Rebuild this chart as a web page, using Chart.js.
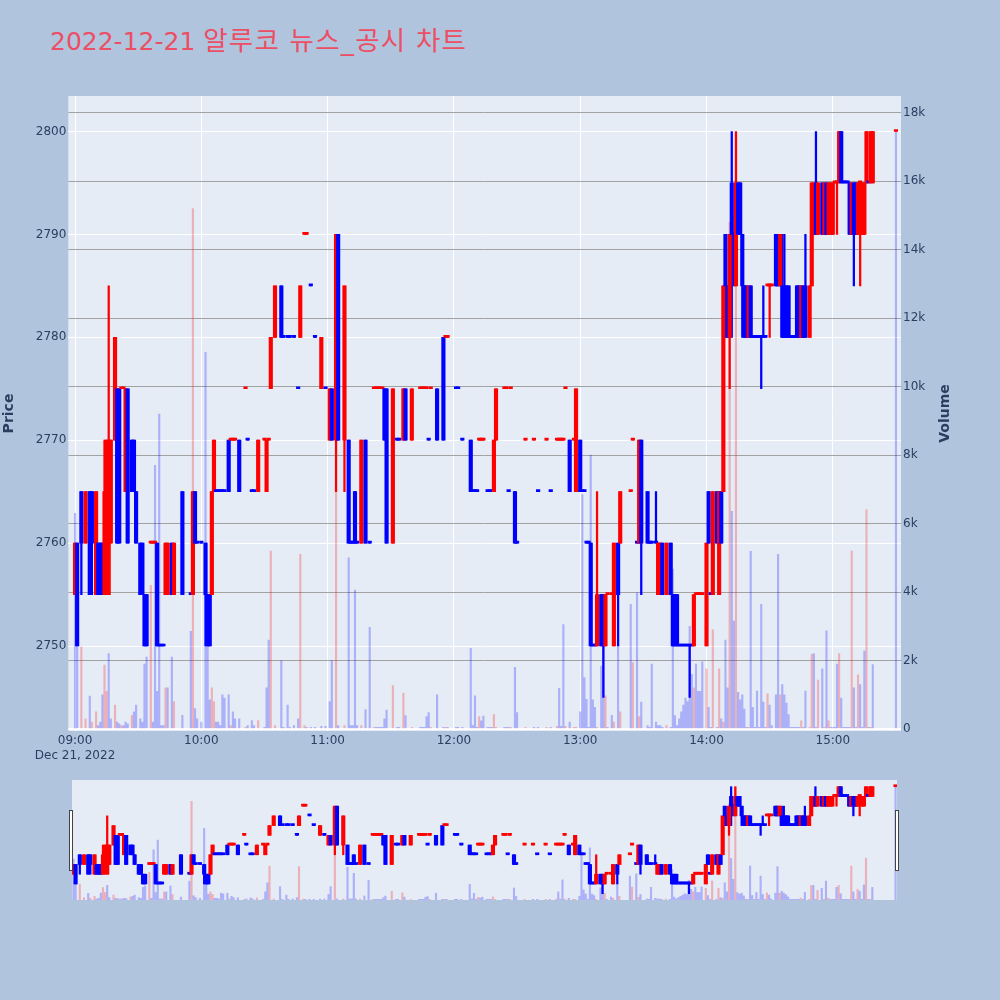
<!DOCTYPE html>
<html>
<head>
<meta charset="utf-8">
<script src="https://cdn.jsdelivr.net/npm/chart.js@4.4.0/dist/chart.umd.min.js"></script>
<style>
  html, body { margin: 0; padding: 0; background: #b0c4de; }
  #wrap { position: relative; width: 1000px; height: 1000px; overflow: hidden; }
  #title { position: absolute; left: 50px; top: 21px; line-height: 40px; white-space: nowrap;
           font-family: "DejaVu Sans", "Noto Sans CJK KR", sans-serif; font-size: 25px; color: #ec4e64; }
  #title .ko { font-size: 26.5px; letter-spacing: 1.2px; }
  #main { position: absolute; left: 0; top: 0; }
  #slider { position: absolute; left: 72px; top: 780px; background: #e5ecf6; }
  .handle { position: absolute; top: 810px; width: 2px; height: 59px; background: #fff; border: 1px solid #444; }
</style>
</head>
<body>
<div id="wrap">
  <div id="title">2022-12-21 <span class="ko">알루코 뉴스_공시 차트</span></div>
  <canvas id="main" width="1000" height="1000"></canvas>
  <canvas id="slider" width="825" height="120"></canvas>
  <div class="handle" style="left:69px"></div>
  <div class="handle" style="left:895px"></div>
</div>
<script>
// one row per traded minute (one line per hour)
var times = [
  '09:00','09:01','09:03','09:05','09:07','09:08','09:10','09:11','09:12','09:13','09:14','09:15','09:16','09:17','09:19','09:20','09:21','09:22','09:23','09:24','09:25','09:27','09:28','09:29','09:31','09:32','09:33','09:34','09:36','09:37','09:38','09:39','09:40','09:41','09:42','09:43','09:44','09:46','09:47','09:51','09:55','09:56','09:57','09:58',
  '10:00','10:02','10:03','10:04','10:05','10:06','10:07','10:08','10:09','10:10','10:11','10:13','10:14','10:15','10:16','10:18','10:21','10:22','10:24','10:25','10:27','10:30','10:31','10:32','10:33','10:35','10:38','10:39','10:41','10:42','10:44','10:46','10:47','10:49','10:50','10:52','10:54','10:57','10:59',
  '11:01','11:02','11:04','11:05','11:08','11:10','11:11','11:12','11:13','11:14','11:16','11:18','11:20','11:22','11:23','11:24','11:25','11:26','11:27','11:28','11:31','11:33','11:34','11:36','11:37','11:40','11:44','11:45','11:46','11:47','11:48','11:49','11:52','11:55','11:56','11:57',
  '12:01','12:02','12:04','12:08','12:09','12:10','12:11','12:12','12:13','12:14','12:16','12:17','12:18','12:19','12:20','12:24','12:25','12:26','12:27','12:29','12:30','12:34','12:38','12:40','12:44','12:46','12:49','12:50','12:51','12:52','12:53','12:55','12:57','12:58',
  '13:00','13:01','13:02','13:03','13:04','13:05','13:06','13:07','13:08','13:10','13:11','13:12','13:13','13:15','13:16','13:18','13:19','13:24','13:25','13:27','13:28','13:29','13:32','13:33','13:34','13:36','13:37','13:38','13:39','13:41','13:43','13:44','13:45','13:46','13:47','13:48','13:49','13:50','13:51','13:52','13:53','13:54','13:55','13:56','13:57','13:58',
  '14:00','14:01','14:02','14:03','14:05','14:06','14:07','14:08','14:09','14:10','14:11','14:12','14:13','14:14','14:15','14:16','14:17','14:18','14:19','14:20','14:21','14:22','14:23','14:24','14:25','14:26','14:27','14:28','14:29','14:30','14:31','14:33','14:34','14:35','14:36','14:37','14:38','14:39','14:40','14:41','14:42','14:43','14:44','14:45','14:46','14:47','14:49','14:50','14:51','14:52','14:53','14:55','14:56','14:57','14:58','14:59',
  '15:00','15:01','15:02','15:03','15:04','15:05','15:06','15:07','15:08','15:09','15:10','15:11','15:12','15:13','15:14','15:15','15:16','15:17','15:18','15:19','15:30'
];
var opens = [
  2755,2760,2765,2760,2765,2765,2755,2760,2760,2760,2755,2760,2755,2760,2770,2775,2775,2775,2775,2765,2775,2770,2770,2765,2760,2760,2755,2755,2760,2760,2760,2760,2750,2750,2750,2755,2755,2760,2755,2765,2755,2755,2765,2760,
  2760,2760,2755,2755,2755,2765,2765,2765,2765,2765,2765,2770,2770,2770,2770,2770,2775,2770,2765,2765,2765,2770,2765,2770,2775,2780,2785,2780,2780,2780,2780,2775,2780,2790,2790,2785,2780,2775,2775,
  2770,2775,2770,2790,2770,2770,2760,2760,2765,2760,2760,2770,2760,2775,2775,2775,2775,2775,2775,2775,2760,2770,2770,2770,2775,2770,2775,2775,2775,2775,2770,2775,2775,2780,2780,2780,
  2775,2775,2770,2770,2765,2765,2765,2770,2770,2770,2765,2765,2765,2765,2770,2775,2775,2765,2775,2765,2760,2770,2770,2765,2770,2765,2770,2770,2770,2770,2775,2770,2770,2765,
  2770,2765,2765,2760,2760,2760,2750,2750,2750,2755,2755,2750,2755,2755,2750,2760,2760,2765,2770,2760,2760,2770,2765,2760,2760,2760,2755,2755,2760,2755,2760,2755,2755,2755,2750,2750,2750,2750,2750,2750,2750,2750,2755,2755,2755,2755,
  2750,2765,2755,2755,2765,2755,2765,2765,2790,2785,2780,2795,2790,2785,2795,2795,2790,2785,2785,2780,2785,2780,2780,2780,2780,2780,2780,2780,2785,2785,2785,2790,2790,2785,2785,2785,2785,2785,2780,2780,2780,2785,2785,2780,2785,2785,2780,2785,2790,2795,2790,2795,2790,2795,2790,2790,
  2790,2795,2795,2795,2800,2795,2795,2795,2795,2790,2795,2795,2790,2795,2790,2790,2795,2795,2795,2795,2800
];
var highs = [
  2760,2760,2765,2765,2765,2765,2765,2760,2760,2760,2770,2770,2785,2770,2780,2775,2775,2775,2775,2775,2775,2770,2770,2765,2760,2760,2755,2755,2760,2760,2760,2760,2750,2750,2750,2760,2760,2760,2760,2765,2755,2765,2765,2760,
  2760,2760,2755,2755,2765,2770,2765,2765,2765,2765,2765,2770,2770,2770,2770,2770,2775,2770,2765,2765,2770,2770,2770,2770,2780,2785,2785,2780,2780,2780,2780,2775,2785,2790,2790,2785,2780,2780,2775,
  2775,2775,2790,2790,2785,2770,2760,2760,2765,2760,2770,2770,2760,2775,2775,2775,2775,2775,2775,2775,2775,2770,2770,2775,2775,2775,2775,2775,2775,2775,2770,2775,2775,2780,2780,2780,
  2775,2775,2770,2770,2765,2765,2765,2770,2770,2770,2765,2765,2765,2770,2775,2775,2775,2765,2775,2765,2760,2770,2770,2765,2770,2765,2770,2770,2770,2770,2775,2770,2770,2775,
  2770,2765,2765,2760,2760,2760,2750,2750,2765,2755,2755,2755,2755,2755,2760,2760,2765,2765,2770,2760,2770,2770,2765,2760,2760,2765,2760,2760,2760,2760,2760,2755,2755,2755,2750,2750,2750,2750,2750,2750,2750,2755,2755,2755,2755,2755,
  2760,2765,2755,2765,2765,2765,2765,2785,2790,2785,2790,2800,2790,2800,2795,2795,2790,2785,2785,2785,2785,2780,2780,2780,2780,2780,2785,2780,2785,2785,2785,2790,2790,2790,2790,2790,2785,2785,2780,2780,2780,2785,2785,2785,2785,2790,2785,2795,2795,2800,2795,2795,2795,2795,2795,2795,
  2795,2795,2795,2800,2800,2795,2795,2795,2795,2795,2795,2795,2795,2795,2795,2795,2800,2795,2800,2800,2800
];
var lows = [
  2755,2750,2755,2760,2755,2755,2755,2755,2755,2755,2755,2755,2755,2760,2770,2760,2760,2775,2775,2765,2760,2765,2765,2760,2755,2755,2750,2750,2760,2760,2760,2750,2750,2750,2750,2755,2755,2755,2755,2755,2755,2755,2760,2760,
  2760,2750,2750,2750,2755,2765,2765,2765,2765,2765,2765,2765,2770,2770,2770,2765,2775,2770,2765,2765,2765,2770,2765,2770,2775,2780,2780,2780,2780,2780,2780,2775,2780,2790,2790,2785,2780,2775,2775,
  2770,2770,2765,2770,2765,2760,2760,2760,2760,2760,2760,2760,2760,2775,2775,2775,2775,2775,2770,2760,2760,2770,2770,2770,2770,2770,2775,2775,2775,2775,2770,2775,2770,2770,2780,2780,
  2775,2775,2770,2765,2765,2765,2765,2770,2770,2770,2765,2765,2765,2765,2770,2775,2775,2765,2775,2760,2760,2770,2770,2765,2770,2765,2770,2770,2770,2770,2775,2765,2770,2765,
  2765,2765,2765,2760,2760,2750,2750,2750,2750,2750,2745,2750,2755,2755,2750,2750,2760,2765,2770,2760,2760,2755,2760,2760,2760,2760,2755,2755,2755,2755,2755,2750,2750,2750,2750,2750,2750,2750,2750,2745,2750,2750,2755,2755,2755,2755,
  2750,2760,2755,2755,2760,2755,2760,2765,2780,2780,2775,2780,2785,2785,2790,2790,2780,2780,2780,2780,2780,2780,2780,2780,2780,2775,2780,2780,2785,2780,2785,2785,2785,2785,2780,2780,2780,2780,2780,2780,2780,2780,2780,2780,2780,2780,2780,2785,2790,2790,2790,2790,2790,2790,2790,2790,
  2790,2795,2790,2795,2795,2795,2795,2795,2790,2790,2785,2790,2790,2785,2790,2790,2795,2795,2795,2795,2800
];
var closes = [
  2760,2750,2760,2765,2755,2760,2765,2755,2755,2755,2765,2770,2770,2770,2780,2760,2760,2775,2775,2775,2760,2765,2765,2760,2755,2755,2750,2750,2760,2760,2760,2750,2750,2750,2750,2760,2760,2755,2760,2755,2755,2765,2760,2760,
  2760,2755,2750,2750,2765,2770,2765,2765,2765,2765,2765,2765,2770,2770,2770,2765,2775,2770,2765,2765,2770,2770,2770,2770,2780,2785,2780,2780,2780,2780,2780,2775,2785,2790,2790,2785,2780,2780,2775,
  2775,2770,2790,2770,2785,2760,2760,2760,2760,2760,2770,2760,2760,2775,2775,2775,2775,2775,2770,2760,2775,2770,2770,2775,2770,2775,2775,2775,2775,2775,2770,2775,2770,2770,2780,2780,
  2775,2775,2770,2765,2765,2765,2765,2770,2770,2770,2765,2765,2765,2770,2775,2775,2775,2765,2775,2760,2760,2770,2770,2765,2770,2765,2770,2770,2770,2770,2775,2765,2770,2775,
  2765,2765,2765,2760,2760,2750,2750,2750,2755,2750,2750,2755,2755,2755,2760,2755,2765,2765,2770,2760,2770,2760,2760,2760,2760,2760,2760,2760,2755,2760,2755,2750,2750,2750,2750,2750,2750,2750,2750,2750,2750,2755,2755,2755,2755,2755,
  2760,2760,2755,2765,2760,2765,2760,2785,2785,2780,2790,2790,2790,2795,2790,2790,2785,2780,2780,2785,2780,2780,2780,2780,2780,2780,2780,2780,2785,2785,2785,2785,2785,2790,2780,2780,2780,2780,2780,2780,2780,2780,2780,2785,2780,2780,2785,2795,2795,2790,2795,2790,2795,2790,2795,2795,
  2795,2795,2795,2800,2795,2795,2795,2795,2790,2795,2790,2790,2795,2795,2795,2795,2800,2795,2800,2800,2800
];
var volumes = [
  6300,2400,2400,300,960,200,500,100,200,1000,1870,1100,2200,300,700,200,150,100,100,200,150,400,500,700,300,200,1900,2100,4200,200,7700,1100,9200,100,100,1200,1200,2100,800,400,2850,15200,600,300,
  200,11000,2400,850,1200,800,200,200,100,1000,900,1000,100,500,300,300,50,100,250,100,250,50,1200,2600,5200,100,2000,50,700,50,100,300,5100,100,50,50,50,80,80,
  800,2000,7000,100,100,5000,100,100,4060,100,100,570,2970,50,50,50,50,50,300,550,1270,50,50,1050,390,50,50,50,50,360,480,50,1000,50,50,50,
  50,50,50,2360,100,970,50,360,240,380,50,50,50,420,50,50,50,50,50,1800,480,50,50,50,50,50,80,1190,80,3050,80,200,50,50,
  500,6850,1500,870,50,8000,850,630,50,1840,3700,970,50,400,200,2450,500,3640,1940,3980,360,790,100,50,1900,200,100,100,50,100,50,4670,390,100,300,500,700,900,800,3000,1600,1200,1900,1100,1100,1960,
  1760,630,50,2900,50,1760,300,200,2600,1200,14800,6360,3150,17400,1070,850,1000,580,50,50,5190,630,50,1110,50,3640,790,50,1030,700,100,1000,5100,1000,1300,1000,760,420,50,50,50,50,50,240,50,1110,50,2180,2200,50,1430,1760,50,2870,240,50,
  50,50,1900,2200,900,50,50,50,50,5200,1200,50,1580,1300,50,2280,6400,50,50,1880,17450
];

var hourTicks = [0, 60, 120, 180, 240, 300, 360];
var hourLabels = ['09:00', '10:00', '11:00', '12:00', '13:00', '14:00', '15:00'];
var dateLabel = 'Dec 21, 2022';
var priceTicks = [2750, 2760, 2770, 2780, 2790, 2800];
var volumeTicks = [0, 2000, 4000, 6000, 8000, 10000, 12000, 14000, 16000, 18000];
var volumeLabels = ['0', '2k', '4k', '6k', '8k', '10k', '12k', '14k', '16k', '18k'];

var RED = '#ff0000', BLUE = '#0000ff';
var RED_V = 'rgba(255,0,0,0.25)', BLUE_V = 'rgba(0,0,255,0.25)';
var AXIS = '#2a3f5f';
Chart.defaults.font.family = '"DejaVu Sans", sans-serif';

// minutes after 09:00
var mins = times.map(function (t) {
  var p = t.split(':');
  return (Number(p[0]) - 9) * 60 + Number(p[1]);
});

// plotly style: flat candles take the direction from the previous close
var candleCol = [], volCol = [];
var prevC = null, prevUp = true;
for (var i = 0; i < times.length; i++) {
  var o = opens[i], c = closes[i], up;
  if (c > o) up = true;
  else if (c < o) up = false;
  else if (prevC !== null && c !== prevC) up = c > prevC;
  else up = prevUp;
  candleCol.push(up ? RED : BLUE);
  volCol.push(prevC !== null && c > prevC ? RED_V : BLUE_V);
  prevC = c; prevUp = up;
}

function makeSets() {
  return [
    {
      label: 'body', yAxisID: 'y', order: 1, grouped: false, barThickness: 3.5, minBarLength: 2,
      backgroundColor: candleCol,
      data: mins.map(function (m, i) {
        return {x: m, y: [Math.min(opens[i], closes[i]), Math.max(opens[i], closes[i])]};
      })
    },
    {
      label: 'wick', yAxisID: 'y', order: 2, grouped: false, barThickness: 1.6,
      backgroundColor: candleCol,
      data: mins.map(function (m, i) { return {x: m, y: [lows[i], highs[i]]}; })
    },
    {
      label: 'volume', yAxisID: 'y1', order: 3, grouped: false, barThickness: 1.5,
      backgroundColor: volCol,
      data: mins.map(function (m, i) { return {x: m, y: volumes[i]}; })
    }
  ];
}

var plotBg = {
  id: 'plotBg',
  beforeDraw: function (chart) {
    var a = chart.chartArea, ctx = chart.ctx;
    ctx.save();
    ctx.fillStyle = '#e5ecf6';
    ctx.fillRect(a.left, a.top, a.right - a.left, a.bottom - a.top);
    ctx.restore();
  }
};

var axisTitles = {
  id: 'axisTitles',
  afterDraw: function (chart) {
    var ctx = chart.ctx, mid = (chart.chartArea.top + chart.chartArea.bottom) / 2;
    ctx.save();
    ctx.fillStyle = AXIS;
    ctx.font = 'bold 14px "DejaVu Sans"';
    ctx.textAlign = 'center';
    ctx.textBaseline = 'middle';
    [['Price', 9.5], ['Volume', 945]].forEach(function (t) {
      ctx.save();
      ctx.translate(t[1], mid);
      ctx.rotate(-Math.PI / 2);
      ctx.fillText(t[0], 0, 0);
      ctx.restore();
    });
    ctx.restore();
  }
};

var tickFont = {family: '"DejaVu Sans"', size: 12};

new Chart(document.getElementById('main'), {
  type: 'bar',
  data: {datasets: makeSets()},
  options: {
    responsive: false,
    animation: false,
    devicePixelRatio: 1,
    layout: {padding: {top: 96, left: 0, right: 0, bottom: 0}},
    plugins: {legend: {display: false}, tooltip: {enabled: false}},
    scales: {
      x: {
        type: 'linear', min: -3.2, max: 392.4, offset: false,
        grid: {color: '#ffffff', lineWidth: 1, drawTicks: false, offset: false},
        border: {display: false},
        afterBuildTicks: function (s) { s.ticks = hourTicks.map(function (v) { return {value: v}; }); },
        ticks: {
          color: AXIS, font: tickFont, padding: 3, maxRotation: 0, autoSkip: false,
          callback: function (v, idx) { return idx === 0 ? [hourLabels[idx], dateLabel] : hourLabels[idx]; }
        },
        afterFit: function (s) { s.height = 269; }
      },
      y: {
        position: 'left', min: 2741.74, max: 2803.45,
        grid: {color: '#ffffff', lineWidth: 1, drawTicks: false},
        border: {display: false},
        afterBuildTicks: function (s) { s.ticks = priceTicks.map(function (v) { return {value: v}; }); },
        ticks: {
          color: AXIS, font: tickFont, padding: 2,
          callback: function (v) { return String(v); }
        },
        afterFit: function (s) { s.width = 68.3; }
      },
      y1: {
        position: 'right', min: -58, max: 18491,
        grid: {
          color: function (c) { return c.tick && c.tick.value === 0 ? '#ffffff' : '#a2a2a2'; },
          lineWidth: function (c) { return c.tick && c.tick.value === 0 ? 2 : 1; },
          drawTicks: false
        },
        border: {display: false},
        afterBuildTicks: function (s) { s.ticks = volumeTicks.map(function (v) { return {value: v}; }); },
        ticks: {
          color: AXIS, font: tickFont, padding: 2,
          callback: function (v, idx) { return volumeLabels[idx]; }
        },
        afterFit: function (s) { s.width = 99; }
      }
    }
  },
  plugins: [plotBg, axisTitles]
});

// range slider: the same traces, squeezed
new Chart(document.getElementById('slider'), {
  type: 'bar',
  data: {datasets: makeSets()},
  options: {
    responsive: false,
    animation: false,
    devicePixelRatio: 1,
    layout: {padding: 0},
    plugins: {legend: {display: false}, tooltip: {enabled: false}},
    scales: {
      x: {type: 'linear', min: -0.7, max: 390.7, offset: false, display: false},
      y: {min: 2741.74, max: 2803.45, display: false},
      y1: {position: 'right', min: -58, max: 18491, display: false}
    }
  }
});
</script>
</body>
</html>
